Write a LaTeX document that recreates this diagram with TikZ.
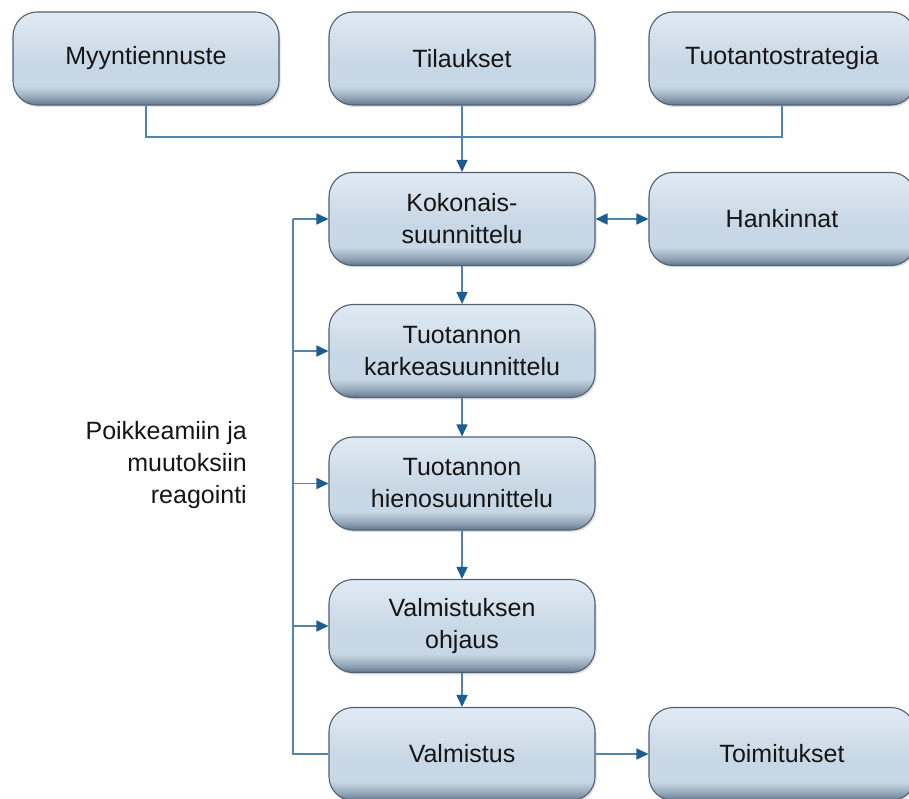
\documentclass[tikz,border=0pt]{standalone}
\usepackage{fontspec}
\setmainfont{Liberation Sans}
\usetikzlibrary{arrows.meta,shadows}
\definecolor{bxdark}{HTML}{66798C}
\definecolor{bxmid}{HTML}{93A6B8}
\definecolor{bxlight}{HTML}{C8D7E5}
\definecolor{bxtop}{HTML}{E0EAF3}
\definecolor{bxborder}{HTML}{4E6072}
\definecolor{lineblue}{HTML}{4F86B1}
\definecolor{tipblue}{HTML}{1D5C92}
\definecolor{txt}{HTML}{151515}
\pgfdeclareverticalshading{boxshade}{100bp}{color(0bp)=(bxdark); color(25bp)=(bxdark); color(29bp)=(bxmid); color(35bp)=(bxlight); color(47bp)=(bxlight); color(75bp)=(bxtop); color(100bp)=(bxtop)}
\tikzset{
  box/.style={draw=bxborder, line width=1.1pt, shading=boxshade, rounded corners=24pt,
    minimum width=266pt, minimum height=93pt, align=center, text=txt,
    font=\fontsize{25}{32}\selectfont,
    drop shadow={opacity=0.25, shadow xshift=1.5pt, shadow yshift=-2pt}},
  conn/.style={draw=lineblue, line width=1.7pt},
  arr/.style={conn, -{Triangle[length=12pt,width=11pt,color=tipblue]}},
  darr/.style={conn, {Triangle[length=12pt,width=11pt,color=tipblue]}-{Triangle[length=12pt,width=11pt,color=tipblue]}},
  lbl/.style={align=right, text=txt, inner sep=0pt, font=\fontsize{25}{32}\selectfont}
}
\begin{document}
\begin{tikzpicture}[x=1pt,y=-1pt]
\useasboundingbox (0,0) rectangle (909,799);
\node[box] (myy) at (146,58.5) {Myyntiennuste};
\node[box] (til) at (462,58.5) {Tilaukset};
\node[box] (tuo) at (782,58.5) {Tuotantostrategia};
\node[box] (kok) at (462,219) {Kokonais-\\suunnittelu};
\node[box] (han) at (782,219) {Hankinnat};
\node[box] (kar) at (462,351) {Tuotannon\\karkeasuunnittelu};
\node[box] (hie) at (462,483.5) {Tuotannon\\hienosuunnittelu};
\node[box] (ohj) at (462,626) {Valmistuksen\\ohjaus};
\node[box] (val) at (462,754) {Valmistus};
\node[box] (toi) at (782,754) {Toimitukset};
\node[lbl, anchor=east] (poi) at (247,465) {Poikkeamiin ja\\muutoksiin\\reagointi};
\coordinate (bus) at (0,137);
\coordinate (fb) at (293,0);
\draw[conn] (myy.south) -- (myy.south |- bus) -- (tuo.south |- bus) -- (tuo.south);
\draw[arr] (til.south) -- (kok.north);
\draw[darr] (kok.east) -- (han.west);
\draw[arr] (kok.south) -- (kar.north);
\draw[arr] (kar.south) -- (hie.north);
\draw[arr] (hie.south) -- (ohj.north);
\draw[arr] (ohj.south) -- (val.north);
\draw[arr] (val.east) -- (toi.west);
\draw[conn] (val.west) -- (fb |- val.west) -- (fb |- kok.west);
\draw[arr] (fb |- kok.west) -- (kok.west);
\draw[arr] (fb |- kar.west) -- (kar.west);
\draw[arr] (fb |- hie.west) -- (hie.west);
\draw[arr] (fb |- ohj.west) -- (ohj.west);
\end{tikzpicture}
\end{document}
